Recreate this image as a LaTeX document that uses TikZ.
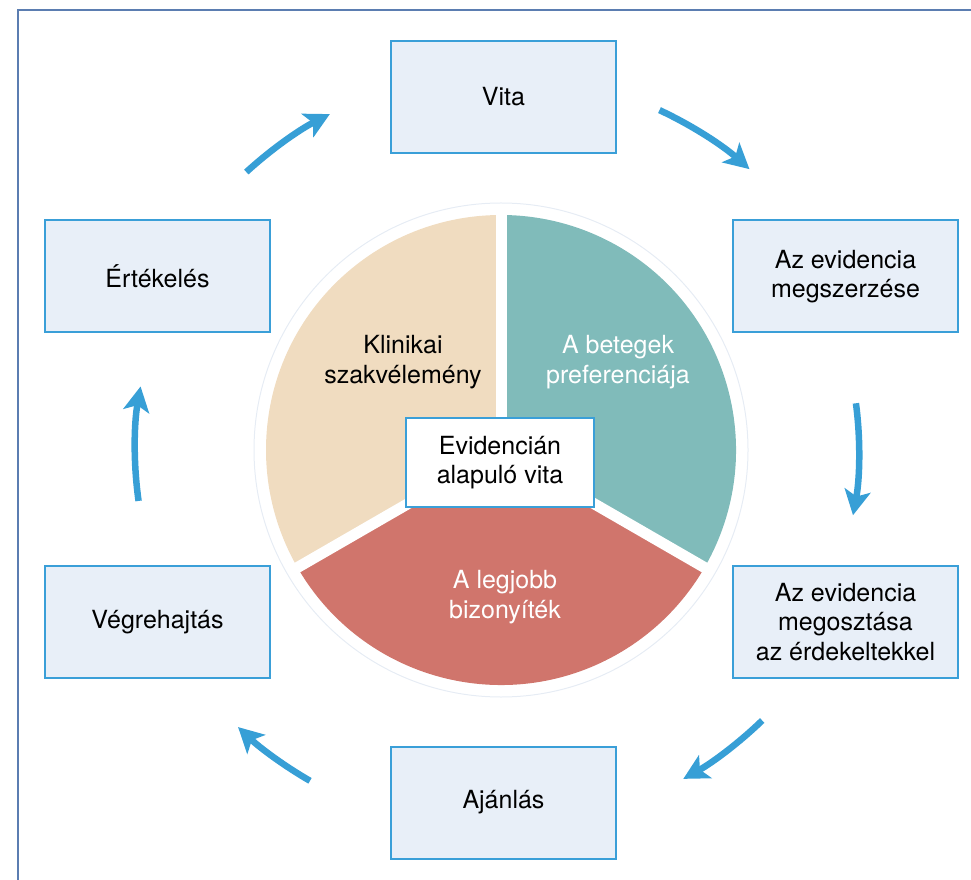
\documentclass[tikz,border=0pt]{standalone}
\usepackage{fontspec}
\setmainfont{TeX Gyre Heros}
\usetikzlibrary{arrows.meta,calc}
\definecolor{boxfill}{HTML}{E8EFF8}
\definecolor{boxline}{HTML}{3A9FD8}
\definecolor{arrowc}{HTML}{379FD6}
\definecolor{tanc}{HTML}{F0DCC0}
\definecolor{tealc}{HTML}{80BBBA}
\definecolor{redc}{HTML}{D0756C}
\definecolor{ringc}{HTML}{E6ECF4}
\definecolor{framec}{HTML}{5B7DB1}
\tikzset{
  stagebox/.style={draw=boxline, line width=2pt, fill=boxfill, minimum width=225pt, minimum height=112pt,
    align=center, font=\fontsize{25}{29.5}\selectfont, inner sep=0pt},
  centerbox/.style={draw=boxline, line width=2pt, fill=white, minimum width=188pt, minimum height=89pt,
    align=center, font=\fontsize{25}{29.5}\selectfont, inner sep=0pt},
  seclabel/.style={align=center, font=\fontsize{25}{29.5}\selectfont},
  flow/.style={draw=arrowc, line width=6.5pt, -{Stealth[length=25pt,width=26pt,inset=6pt]}},
}
\begin{document}
\begin{tikzpicture}[x=1pt,y=1pt]
\useasboundingbox (0,0) rectangle (971,879);
% frame
\draw[framec, line width=1.6pt] (18,-5) -- (18,869) -- (980,869);
% pie
\coordinate (C) at (501,429);
\draw[ringc, line width=1pt] (C) circle[radius=247];
\fill[tanc] (C) -- ($(C)+(90:235)$) arc[start angle=90,end angle=210,radius=235] -- cycle;
\fill[tealc] (C) -- ($(C)+(-30:235)$) arc[start angle=-30,end angle=90,radius=235] -- cycle;
\fill[redc] (C) -- ($(C)+(210:235)$) arc[start angle=210,end angle=330,radius=235] -- cycle;
\foreach \a in {90,210,330} \draw[white, line width=11pt] (C) -- ($(C)+(\a:240)$);
\node[seclabel] (klin) at (403,517) {Klinikai\\szakvélemény};
\node[seclabel, text=white] (bet) at (618,517) {A betegek\\preferenciája};
\node[seclabel, text=white] (legj) at (505,282) {A legjobb\\bizonyíték};
\node[centerbox] (mid) at (500,416.5) {Evidencián\\alapuló vita};
% stage boxes
\node[stagebox] (vita) at (503.5,782) {Vita};
\node[stagebox] (megsz) at (845.5,602.5) {Az evidencia\\megszerzése};
\node[stagebox] (megos) at (845.5,257) {Az evidencia\\megosztása\\az érdekeltekkel};
\node[stagebox] (ajan) at (503.5,76.5) {Ajánlás};
\node[stagebox] (vegr) at (157.5,257) {Végrehajtás};
\node[stagebox] (ert) at (157.5,602.5) {Értékelés};
% arrows
\coordinate (a1) at ($(C)+(65:375)$);
\coordinate (a2) at ($(C)+(7.5:358)$);
\coordinate (a3) at ($(C)+(-46:376)$);
\coordinate (a4) at ($(C)+(240:382)$);
\coordinate (a5) at ($(C)+(188:366)$);
\coordinate (a6) at ($(C)+(132.5:377)$);
\draw[flow] (a1) arc[start angle=65,end angle=48.5,radius=375];
\draw[flow] (a2) arc[start angle=7.5,end angle=-10.5,radius=358];
\draw[flow] (a3) arc[start angle=-46,end angle=-61,radius=376];
\draw[flow] (a4) arc[start angle=240,end angle=226.5,radius=382];
\draw[flow] (a5) arc[start angle=188,end angle=170,radius=366];
\draw[flow] (a6) arc[start angle=132.5,end angle=117,radius=377];
\end{tikzpicture}
\end{document}
